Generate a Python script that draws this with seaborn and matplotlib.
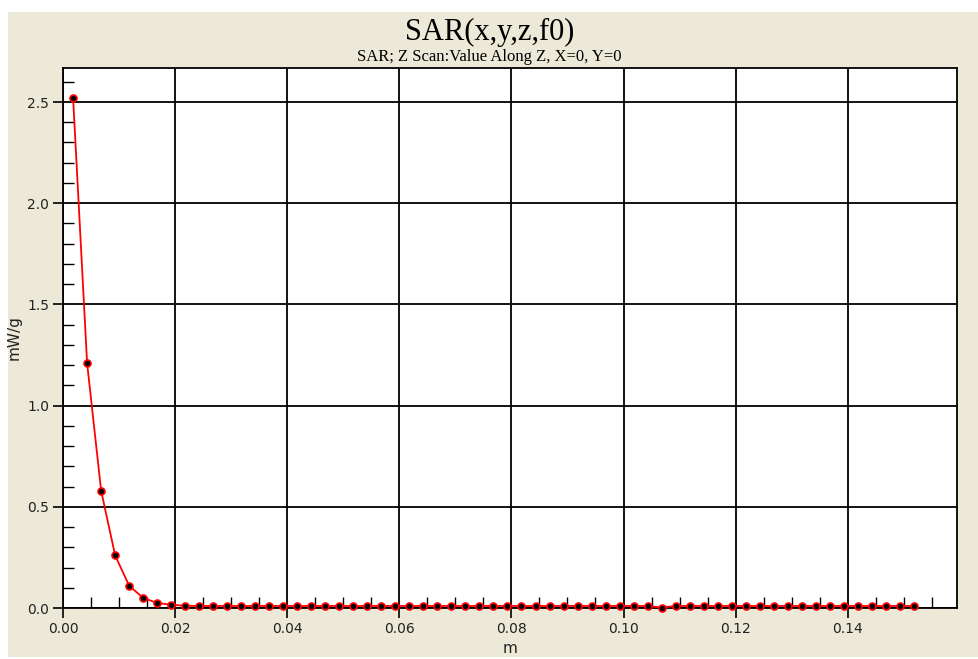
import numpy as np
import pandas as pd
import seaborn as sns
import matplotlib.pyplot as plt
from matplotlib.patches import Rectangle
from matplotlib.ticker import MultipleLocator, FormatStrFormatter

# z position (m) and SAR value (mW/g) along the Z scan
z_m = [
    0.0018, 0.0043, 0.0068, 0.0093, 0.0118, 0.0143, 0.0168, 0.0193, 0.0218, 0.0243,
    0.0268, 0.0293, 0.0318, 0.0343, 0.0368, 0.0393, 0.0418, 0.0443, 0.0468, 0.0493,
    0.0518, 0.0543, 0.0568, 0.0593, 0.0618, 0.0643, 0.0668, 0.0693, 0.0718, 0.0743,
    0.0768, 0.0793, 0.0818, 0.0843, 0.0868, 0.0893, 0.0918, 0.0943, 0.0968, 0.0993,
    0.1018, 0.1043, 0.1068, 0.1093, 0.1118, 0.1143, 0.1168, 0.1193, 0.1218, 0.1243,
    0.1268, 0.1293, 0.1318, 0.1343, 0.1368, 0.1393, 0.1418, 0.1443, 0.1468, 0.1493,
    0.1518,
]
sar = [
    2.52, 1.21, 0.58, 0.26, 0.11, 0.05, 0.025, 0.016, 0.011, 0.010,
    0.010, 0.010, 0.010, 0.010, 0.010, 0.010, 0.010, 0.010, 0.010, 0.010,
    0.010, 0.010, 0.010, 0.010, 0.010, 0.010, 0.010, 0.010, 0.010, 0.010,
    0.010, 0.010, 0.010, 0.010, 0.010, 0.010, 0.010, 0.010, 0.010, 0.010,
    0.010, 0.010, 0.002, 0.010, 0.010, 0.010, 0.010, 0.010, 0.010, 0.010,
    0.010, 0.010, 0.010, 0.010, 0.010, 0.010, 0.010, 0.010, 0.010, 0.010,
    0.010,
]

title = "SAR(x,y,z,f0)"
subtitle = "SAR; Z Scan:Value Along Z, X=0, Y=0"

df = pd.DataFrame({"z": z_m, "sar": sar})

sns.set_style("white")
plt.rcParams["font.family"] = ["DejaVu Sans"]

bg = "#ECE9D8"
fig = plt.figure(figsize=(9.79, 6.59), dpi=100, facecolor="white")
# beige panel behind everything
fig.add_artist(Rectangle((8 / 979, 2 / 659), 971 / 979, 645 / 659,
                         transform=fig.transFigure, facecolor=bg,
                         edgecolor="none", zorder=-10))

ax = fig.add_axes([63 / 979, 1 - 608 / 659, (957 - 63) / 979, (608 - 68) / 659])
ax.set_zorder(1)
ax.set_facecolor("white")

sns.lineplot(data=df, x="z", y="sar", ax=ax, color="red", linewidth=1.3,
             marker="o", markersize=5, markerfacecolor="black",
             markeredgecolor="red", markeredgewidth=1.2, clip_on=False, zorder=5)

ax.set_xlim(0, 0.1595)
ax.set_ylim(0, 2.668)

ax.xaxis.set_major_locator(MultipleLocator(0.02))
ax.xaxis.set_minor_locator(MultipleLocator(0.005))
ax.yaxis.set_major_locator(MultipleLocator(0.5))
ax.yaxis.set_minor_locator(MultipleLocator(0.1))
ax.xaxis.set_major_formatter(FormatStrFormatter("%.2f"))
ax.yaxis.set_major_formatter(FormatStrFormatter("%.1f"))

ax.grid(True, which="major", color="black", linewidth=1.3)
ax.set_axisbelow(True)
for s in ax.spines.values():
    s.set_color("black")
    s.set_linewidth(1.3)

ax.tick_params(which="major", direction="out", length=7, width=1.2,
               color="black", labelsize=10, labelcolor="#222222",
               bottom=True, left=True, pad=3)
ax.tick_params(which="minor", direction="in", length=8, width=1.0,
               color="black", bottom=True, left=True)

ax.set_xlabel("m", fontsize=11, color="#222222", labelpad=4)
ax.set_ylabel("mW/g", fontsize=11, color="#222222", labelpad=4)

fig.text(0.5, 1 - 32 / 659, title, ha="center", va="center",
         fontsize=22, family="Liberation Serif", color="black")
fig.text(0.5, 1 - 57 / 659, subtitle, ha="center", va="center",
         fontsize=12, family="Liberation Serif", color="black")

fig.savefig("out.png", dpi=100, facecolor=fig.get_facecolor())
